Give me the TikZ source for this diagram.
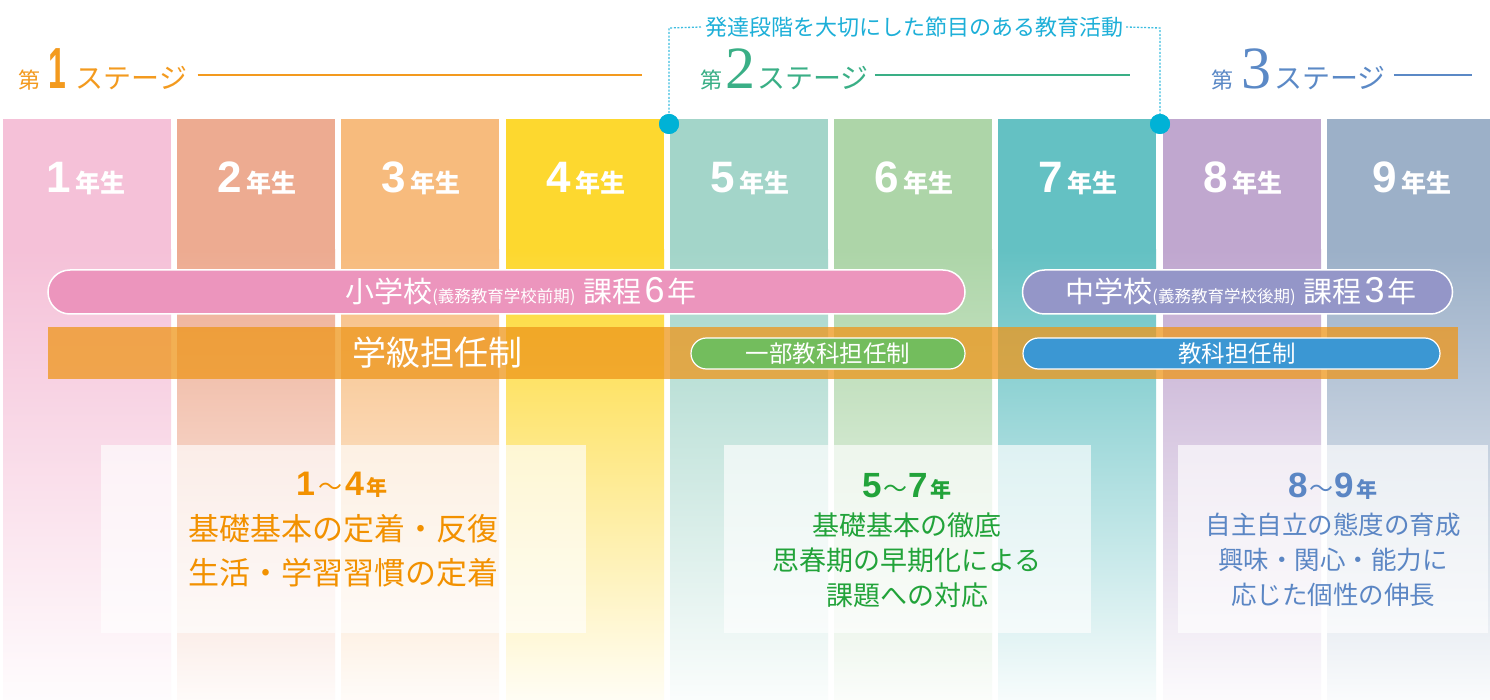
\documentclass[tikz,border=0pt]{standalone}
\usepackage{fontspec}
\usepackage{graphicx}
\newfontfamily\jp{Noto Sans CJK JP}
\newfontfamily\lsans{Liberation Sans}
\newfontfamily\lserif{Liberation Serif}
\newfontfamily\condsans[FakeStretch=0.55]{Liberation Sans}
\newcommand{\fsz}[1]{\fontsize{#1}{#1}\selectfont}
\definecolor{cA}{HTML}{F5C1D8}
\definecolor{cB}{HTML}{EDAB91}
\definecolor{cC}{HTML}{F7BB7D}
\definecolor{cD}{HTML}{FDD82F}
\definecolor{cE}{HTML}{A3D5C9}
\definecolor{cF}{HTML}{ADD5A8}
\definecolor{cG}{HTML}{64C1C3}
\definecolor{cH}{HTML}{C0A7CF}
\definecolor{cI}{HTML}{9CB0C8}
\definecolor{stOrange}{HTML}{F39A1E}
\definecolor{stGreen}{HTML}{3AAF86}
\definecolor{stBlue}{HTML}{5B89C6}
\definecolor{cyanDot}{HTML}{00B2D6}
\definecolor{cyanLine}{HTML}{3DBDE0}
\definecolor{cyanText}{HTML}{1DAFD8}
\definecolor{pinkPill}{HTML}{EC95BD}
\definecolor{purplePill}{HTML}{9496C8}
\definecolor{greenPill}{HTML}{73BD5D}
\definecolor{bluePill}{HTML}{3B97D3}
\definecolor{bandOrange}{HTML}{EE961A}
\definecolor{txOrange}{HTML}{F29100}
\definecolor{txGreen}{HTML}{22A33A}
\definecolor{txBlue}{HTML}{5B86C4}
\begin{document}
\begin{tikzpicture}[x=1pt,y=-1pt,
  yrlabel/.style={text=white, inner sep=0pt, anchor=base},
  pillbig/.style={draw=white, line width=1.5pt, rounded corners=22pt, inner sep=0pt, minimum height=44pt},
  pillsmall/.style={draw=white, line width=1.2pt, rounded corners=15.5pt, inner sep=0pt, minimum height=31pt},
  tbox/.style={fill=white, fill opacity=0.65, draw=none, inner sep=0pt},
  dotmark/.style={circle, fill=cyanDot, minimum size=20pt, inner sep=0pt},
  bracket/.style={cyanLine, line width=1.3pt, dash pattern=on 2pt off 1.6pt},
  stageline/.style={line width=2.4pt},
  boxtext/.style={inner sep=0pt, anchor=center}
]
\useasboundingbox (0,0) rectangle (1490,700);
\fill[white] (0,0) rectangle (1490,700);
% columns
\foreach \xa/\xb/\cc in {3/171/cA,177/335/cB,341/499/cC,506/664/cD,670/828/cE,834/992/cF,998/1156/cG,1163/1321/cH,1327/1490/cI}{
  \fill[\cc] (\xa,119) rectangle (\xb,251);
  \shade[top color=\cc, bottom color=\cc!5!white] (\xa,250) rectangle (\xb,700);
}
% year labels
\foreach \n/\cx in {1/86,2/257,3/421,4/586,5/750,6/914,7/1078,8/1243,9/1412}{
  \node[yrlabel] (yr\n) at (\cx,193) {{\lsans\bfseries\fsz{44}\n}\hspace{5pt}{\jp\bfseries\fsz{25}年生}};
}
% headers
\node[anchor=base west, inner sep=0pt, text=stOrange] (st1) at (18,89)
  {{\jp\fsz{22}第}\hspace{8pt}{\condsans\bfseries\fsz{58}1}\hspace{10pt}{\jp\fsz{28}ステージ}};
\coordinate (st1end) at (642,75);
\draw[stOrange, stageline] ([xshift=10pt]st1.east |- st1end) -- (st1end);
\node[anchor=base west, inner sep=0pt, text=stGreen] (st2) at (700,89)
  {{\jp\fsz{22}第}\hspace{3pt}{\lserif\fsz{60}2}\hspace{2pt}{\jp\fsz{28}ステージ}};
\coordinate (st2end) at (1130,75);
\draw[stGreen, stageline] ([xshift=6pt]st2.east |- st2end) -- (st2end);
\node[anchor=base west, inner sep=0pt, text=stBlue] (st3) at (1211,89)
  {{\jp\fsz{22}第}\hspace{8pt}{\lserif\fsz{60}3}\hspace{3pt}{\jp\fsz{28}ステージ}};
\coordinate (st3end) at (1472,75);
\draw[stBlue, stageline] ([xshift=8pt]st3.east |- st3end) -- (st3end);
% bracket
\node[inner xsep=3pt, inner ysep=0pt, text=cyanText] (topnote) at (914,27) {\jp\fsz{22}発達段階を大切にした節目のある教育活動};
\coordinate (bl) at (669,28);
\coordinate (br) at (1160,28);
\node[dotmark] (d1) at (669,124) {};
\node[dotmark] (d2) at (1160,124) {};
\draw[bracket] (d1.center) -- (bl) -- (topnote.west);
\draw[bracket] (topnote.east) -- (br) -- (d2.center);
\node[dotmark] at (d1) {};
\node[dotmark] at (d2) {};
% school pills
\node[pillbig, fill=pinkPill, minimum width=917pt] (shopill) at (506.5,292) {};
\node[text=white, inner sep=0pt] (shotext) at (521,292)
  {\jp\fsz{29}小学校{\fsz{16.5}(義務教育学校前期)}\hspace{8pt}課程\hspace{3pt}{\lsans\fsz{36}6}\hspace{3pt}年};
\node[pillbig, fill=purplePill, minimum width=430pt] (chupill) at (1237.5,292) {};
\node[text=white, inner sep=0pt] (chutext) at (1241,292)
  {\jp\fsz{29}中学校{\fsz{16.5}(義務教育学校後期)}\hspace{8pt}課程\hspace{3pt}{\lsans\fsz{36}3}\hspace{3pt}年};
% orange band
\fill[bandOrange, opacity=0.75] (48,327) rectangle (1458,379);
\node[text=white, inner sep=0pt] (gakkyu) at (437,353) {\jp\fsz{34}学級担任制};
\node[pillsmall, fill=greenPill, minimum width=274pt] (ichibu) at (828,353.5) {};
\node[text=white, inner sep=0pt] at (ichibu) {\jp\fsz{23.5}一部教科担任制};
\node[pillsmall, fill=bluePill, minimum width=417pt] (kyoka) at (1231.5,353.5) {};
\node[text=white, inner sep=0pt] at (1237,353.5) {\jp\fsz{23.5}教科担任制};
% text boxes
\node[tbox, minimum width=485pt, minimum height=188pt] (box1) at (343.5,539) {};
\node[tbox, minimum width=367pt, minimum height=188pt] (box2) at (907.5,539) {};
\node[tbox, minimum width=310pt, minimum height=188pt] (box3) at (1333,539) {};
% box 1 text
\node[boxtext, text=txOrange] (b1h) at (342,485) {{\lsans\bfseries\fsz{34}1}\hspace{3pt}{\jp\fsz{24}～}\hspace{3pt}{\lsans\bfseries\fsz{34}4}\hspace{3pt}{\jp\bfseries\fsz{21}年}};
\node[boxtext, text=txOrange] (b1a) at (343,529) {\jp\fsz{31}基礎基本の定着・反復};
\node[boxtext, text=txOrange] (b1b) at (343,573) {\jp\fsz{31}生活・学習習慣の定着};
% box 2 text
\node[boxtext, text=txGreen] (b2h) at (907,486) {{\lsans\bfseries\fsz{35}5}\hspace{1pt}{\jp\fsz{24}～}\hspace{1pt}{\lsans\bfseries\fsz{35}7}\hspace{3pt}{\jp\bfseries\fsz{21}年}};
\node[boxtext, text=txGreen] (b2a) at (907,525) {\jp\fsz{27}基礎基本の徹底};
\node[boxtext, text=txGreen] (b2b) at (907,560) {\jp\fsz{27}思春期の早期化による};
\node[boxtext, text=txGreen] (b2c) at (907,595) {\jp\fsz{27}課題への対応};
% box 3 text
\node[boxtext, text=txBlue] (b3h) at (1333,486) {{\lsans\bfseries\fsz{35}8}\hspace{1pt}{\jp\fsz{24}～}\hspace{1pt}{\lsans\bfseries\fsz{35}9}\hspace{3pt}{\jp\bfseries\fsz{21}年}};
\node[boxtext, text=txBlue] (b3a) at (1333,525) {\jp\fsz{25.5}自主自立の態度の育成};
\node[boxtext, text=txBlue] (b3b) at (1333,560) {\jp\fsz{25.5}興味・関心・能力に};
\node[boxtext, text=txBlue] (b3c) at (1333,595) {\jp\fsz{25.5}応じた個性の伸長};
\end{tikzpicture}
\end{document}
